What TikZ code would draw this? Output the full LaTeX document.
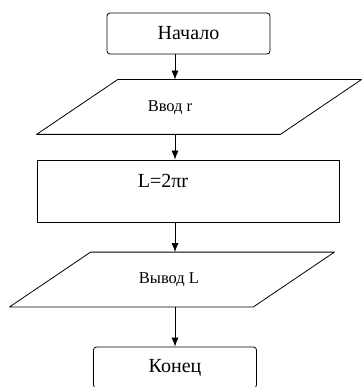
\documentclass[tikz,border=0pt]{standalone}
\usepackage{fontspec}
\setmainfont{Liberation Serif}
\usetikzlibrary{arrows.meta}
\begin{document}
\begin{tikzpicture}[x=1pt, y=1pt, line width=.8pt, line join=round, >={Latex[length=9pt,width=7pt]},
  term/.style={draw, rounded corners=3pt, minimum width=163pt, minimum height=41pt, inner sep=0pt, font=\fontsize{20}{24}\selectfont},
  io/.style={minimum width=324pt, minimum height=54pt, inner sep=0pt},
  proc/.style={draw, minimum width=302pt, minimum height=62pt, inner sep=0pt},
  big/.style={font=\fontsize{20}{24}\selectfont},
  small/.style={font=\fontsize{16.5}{20}\selectfont}]
\useasboundingbox (0,0) rectangle (362,-387);
\node[term] (start) at (188.5,-33.5) {Начало};
\node[io] (in) at (199,-107) {};
\node[small] (inText) at (170,-108) {Ввод r};
\node[proc] (calc) at (188,-191) {};
\node[big] (calcText) at (163,-181) {L=2πr};
\node[io] (out) at (172,-279.5) {};
\node[small] (outText) at (169,-280) {Вывод L};
\node[term] (stop) at (175,-367.5) {Конец};
\foreach \n in {in,out}
  \draw ([xshift=81pt]\n.north west) -- (\n.north east) -- ([xshift=-81pt]\n.south east) -- (\n.south west) -- cycle;
\foreach \a/\b in {start/in, in/calc, calc/out, out/stop}
  \draw[->] (\a.south -| stop) -- (\b.north -| stop);
\end{tikzpicture}
\end{document}
